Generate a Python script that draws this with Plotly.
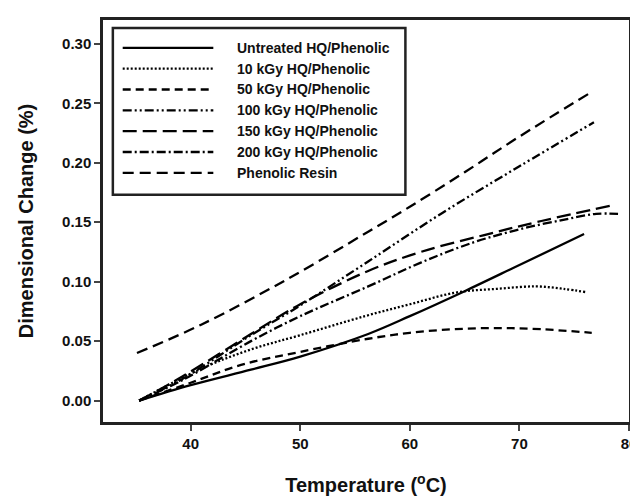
import plotly.graph_objects as go

# temperature (C) and dimensional change (%)
untreated_t = [35.3, 40, 45.5, 50, 56.2, 60, 65, 70, 75.9]
untreated_y = [0.0, 0.013, 0.026, 0.037, 0.056, 0.071, 0.092, 0.114, 0.140]

kgy10_t = [35.3, 41, 45.5, 50, 55.9, 60, 64.3, 68, 71.5, 74, 76.2]
kgy10_y = [0.0, 0.027, 0.043, 0.055, 0.071, 0.081, 0.091, 0.094, 0.096, 0.094, 0.091]

kgy50_t = [35.3, 40, 44.6, 50, 56.2, 60, 64, 68, 72, 76.6]
kgy50_y = [0.0, 0.015, 0.030, 0.041, 0.052, 0.057, 0.060, 0.061, 0.060, 0.057]

kgy100_t = [35.3, 39.2, 45.5, 50, 56.2, 63, 70, 76.8]
kgy100_y = [0.0, 0.018, 0.055, 0.080, 0.117, 0.158, 0.197, 0.234]

kgy150_t = [35.3, 39.2, 45.5, 50, 56.2, 61, 66.7, 72, 78.4]
kgy150_y = [0.0, 0.020, 0.056, 0.081, 0.109, 0.125, 0.139, 0.151, 0.164]

kgy200_t = [35.3, 39.2, 45.5, 50, 56.2, 61, 65.8, 70, 74, 77, 79]
kgy200_y = [0.0, 0.017, 0.050, 0.071, 0.096, 0.116, 0.133, 0.144, 0.152, 0.157, 0.157]

resin_t = [35.1, 41, 48.8, 56.2, 60, 65, 70, 76.5]
resin_y = [0.040, 0.064, 0.102, 0.142, 0.163, 0.192, 0.222, 0.259]

names = ['Untreated HQ/Phenolic', '10 kGy HQ/Phenolic', '50 kGy HQ/Phenolic',
         '100 kGy HQ/Phenolic', '150 kGy HQ/Phenolic', '200 kGy HQ/Phenolic',
         'Phenolic Resin']
series = [(untreated_t, untreated_y), (kgy10_t, kgy10_y), (kgy50_t, kgy50_y),
          (kgy100_t, kgy100_y), (kgy150_t, kgy150_y), (kgy200_t, kgy200_y),
          (resin_t, resin_y)]
dashes = ['solid', '2px,2px', '8px,5px', '9px,3px,2px,3px,2px,3px',
          '14px,6px', '9px,3px,2px,3px', '11px,6px']

W, H = 638, 502
L, R, T, B = 95, 9, 9, 88
pw, ph = W - L - R, H - T - B


def px(x):
    return (x - L) / pw


def py(y):
    return (H - B - y) / ph


fig = go.Figure()
for (t, y), name, dash in zip(series, names, dashes):
    fig.add_trace(go.Scatter(x=t, y=y, mode='lines', name=name, line_shape='spline',
                             line=dict(color='black', width=2.3, dash=dash),
                             showlegend=False))

# hand-made legend box to match the long line samples
shapes = [dict(type='rect', xref='paper', yref='paper', x0=px(105), x1=px(402),
               y0=py(185), y1=py(17), line=dict(color='#222', width=2.5))]
annotations = []
rows = [37, 58, 79, 100, 121, 142, 163]
for row, name, dash in zip(rows, names, dashes):
    shapes.append(dict(type='line', xref='paper', yref='paper', x0=px(115), x1=px(207),
                       y0=py(row), y1=py(row), line=dict(color='black', width=2.3, dash=dash)))
    annotations.append(dict(xref='paper', yref='paper', x=px(229), y=py(row), text=name,
                            showarrow=False, xanchor='left', yanchor='middle',
                            font=dict(size=14, color='#111')))

fig.update_layout(
    width=W, height=H,
    margin=dict(l=L, r=R, t=T, b=B),
    paper_bgcolor='white', plot_bgcolor='white',
    font=dict(family='Liberation Sans', color='#111', size=14, weight='bold'),
    shapes=shapes, annotations=annotations,
)
fig.update_xaxes(range=[32, 80], tickvals=[40, 50, 60, 70, 80], showgrid=False, zeroline=False,
                 showline=True, linecolor='#222', linewidth=2.5, mirror=True,
                 ticks='outside', ticklen=6, tickwidth=1.5, tickcolor='#444',
                 tickfont=dict(size=15, weight='bold'),
                 title=dict(text='Temperature (<sup>o</sup>C)', font=dict(size=20, weight='bold'),
                            standoff=28))
fig.update_yaxes(range=[-0.018, 0.32], tickvals=[0, 0.05, 0.1, 0.15, 0.2, 0.25, 0.3],
                 tickformat='.2f', showgrid=False, zeroline=False,
                 showline=True, linecolor='#222', linewidth=2.5, mirror=True,
                 ticks='outside', ticklen=6, tickwidth=1.5, tickcolor='#444',
                 tickfont=dict(size=15, weight='bold'),
                 title=dict(text='Dimensional Change (%)', font=dict(size=20, weight='bold'),
                            standoff=24))

fig.write_html("out.html")
